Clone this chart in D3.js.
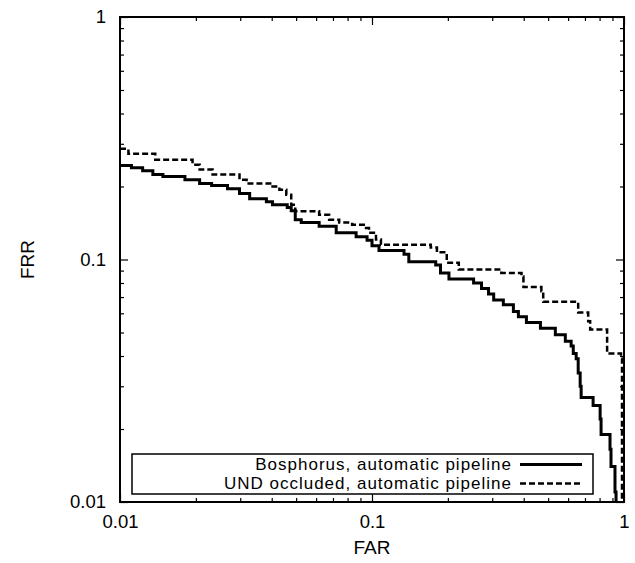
<!DOCTYPE html>
<html><head><meta charset="utf-8">
<script src="https://cdn.jsdelivr.net/npm/d3@7"></script>
<style>body{margin:0;background:#fff}svg{display:block}text{font-family:"Liberation Sans",Arial,sans-serif}</style>
</head><body>
<svg id="c" width="635" height="563"></svg>
<script>
// Data
const bosphorusFAR = [0.01,0.0111,0.0123,0.0135,0.0148,0.0181,0.0207,0.0231,0.0267,0.0298,0.0327,0.0381,0.0403,0.0461,0.0478,0.0496,0.0524,0.0617,0.0721,0.0865,0.0956,0.1,0.1066,0.134,0.14,0.179,0.187,0.202,0.253,0.272,0.29,0.304,0.332,0.364,0.381,0.41,0.466,0.534,0.585,0.617,0.629,0.646,0.658,0.67,0.676,0.754,0.804,0.811,0.88,0.888,0.921,0.93];
const bosphorusFRR = [0.244,0.239,0.232,0.224,0.22,0.213,0.206,0.202,0.196,0.187,0.178,0.173,0.168,0.164,0.159,0.146,0.142,0.137,0.129,0.124,0.12,0.114,0.109,0.105,0.098,0.095,0.088,0.083,0.08,0.076,0.072,0.068,0.065,0.061,0.058,0.055,0.052,0.049,0.046,0.044,0.041,0.039,0.034,0.03,0.027,0.025,0.022,0.019,0.0165,0.014,0.011,0.009];
const undFAR = [0.01,0.0108,0.0138,0.0194,0.0207,0.0233,0.0298,0.0318,0.0403,0.0429,0.0457,0.0478,0.0496,0.0617,0.0676,0.0741,0.0834,0.0947,0.0973,0.1037,0.1085,0.171,0.181,0.198,0.221,0.326,0.392,0.399,0.47,0.478,0.658,0.721,0.734,0.857,0.973,0.982];
const undFRR = [0.286,0.273,0.258,0.246,0.235,0.224,0.213,0.206,0.2,0.194,0.185,0.168,0.158,0.153,0.146,0.142,0.139,0.135,0.129,0.121,0.115,0.112,0.107,0.097,0.091,0.088,0.085,0.077,0.074,0.067,0.0605,0.0556,0.0515,0.041,0.039,0.009];
const seriesNames = ["Bosphorus, automatic pipeline","UND occluded, automatic pipeline"];
const xMajorTicks = [0.01,0.1,1];
const xTickLabels = ["0.01","0.1","1"];
const yMajorTicks = [0.01,0.1,1];
const yTickLabels = ["0.01","0.1","1"];
const xTitle = "FAR", yTitle = "FRR";

const L=120,R=624,T=17,B=502;
const svg=d3.select("#c");
const x=d3.scaleLog().domain([0.01,1]).range([L,R]);
const y=d3.scaleLog().domain([0.01,1]).range([B,T]);
const minor=[];
[0.01,0.1].forEach(d=>{for(let k=2;k<=9;k++)minor.push(d*k);});

function styleAxis(g){g.select(".domain").remove();g.selectAll(".tick line").attr("stroke","#000").attr("stroke-width",1.2);}
svg.append("g").attr("transform",`translate(0,${B})`)
  .call(d3.axisBottom(x).tickValues(xMajorTicks).tickSize(-8).tickPadding(13).tickFormat((d,i)=>xTickLabels[i]))
  .call(styleAxis).selectAll("text").attr("font-size",18.5).attr("fill","#000");
svg.append("g").attr("transform",`translate(0,${B})`)
  .call(d3.axisBottom(x).tickValues(minor).tickSize(-4).tickFormat("")).call(styleAxis);
svg.append("g").attr("transform",`translate(0,${T})`)
  .call(d3.axisTop(x).tickValues(xMajorTicks).tickSize(-8).tickFormat("")).call(styleAxis);
svg.append("g").attr("transform",`translate(0,${T})`)
  .call(d3.axisTop(x).tickValues(minor).tickSize(-4).tickFormat("")).call(styleAxis);
svg.append("g").attr("transform",`translate(${L},0)`)
  .call(d3.axisLeft(y).tickValues(yMajorTicks).tickSize(-8).tickPadding(14).tickFormat((d,i)=>yTickLabels[i]))
  .call(styleAxis).selectAll("text").attr("font-size",18.5).attr("fill","#000");
svg.append("g").attr("transform",`translate(${L},0)`)
  .call(d3.axisLeft(y).tickValues(minor).tickSize(-4).tickFormat("")).call(styleAxis);
svg.append("g").attr("transform",`translate(${R},0)`)
  .call(d3.axisRight(y).tickValues(yMajorTicks).tickSize(-8).tickFormat("")).call(styleAxis);
svg.append("g").attr("transform",`translate(${R},0)`)
  .call(d3.axisRight(y).tickValues(minor).tickSize(-4).tickFormat("")).call(styleAxis);

svg.append("defs").append("clipPath").attr("id","clip").append("rect")
  .attr("x",L).attr("y",T).attr("width",R-L).attr("height",B-T);

const line=d3.line().x(d=>x(d[0])).y(d=>y(d[1])).curve(d3.curveStepAfter);
const g=svg.append("g").attr("clip-path","url(#clip)");
g.append("path").datum(d3.zip(bosphorusFAR,bosphorusFRR)).attr("d",line)
  .attr("fill","none").attr("stroke","#000").attr("stroke-width",3);
g.append("path").datum(d3.zip(undFAR,undFRR)).attr("d",line)
  .attr("fill","none").attr("stroke","#000").attr("stroke-width",2.5).attr("stroke-dasharray","6,3");

svg.append("rect").attr("x",L).attr("y",T).attr("width",R-L).attr("height",B-T)
  .attr("fill","none").attr("stroke","#000").attr("stroke-width",2);

const lg=svg.append("g");
lg.append("rect").attr("x",132).attr("y",454).attr("width",461).attr("height",40)
  .attr("fill","#fff").attr("stroke","#000").attr("stroke-width",1.5);
seriesNames.forEach((s,i)=>{
  const yy=464.5+i*19;
  lg.append("text").attr("x",512).attr("y",yy).attr("dy","0.35em").attr("text-anchor","end")
    .attr("font-size",17).attr("letter-spacing","1px").text(s);
  lg.append("line").attr("x1",520).attr("x2",582).attr("y1",yy).attr("y2",yy)
    .attr("stroke","#000").attr("stroke-width",i?2.5:3).attr("stroke-dasharray",i?"6,3":null);
});

svg.append("text").attr("x",(L+R)/2).attr("y",554).attr("text-anchor","middle").attr("font-size",19).text(xTitle);
svg.append("text").attr("transform",`translate(34,${(T+B)/2}) rotate(-90)`).attr("text-anchor","middle").attr("font-size",19).text(yTitle);
</script>
</body></html>
